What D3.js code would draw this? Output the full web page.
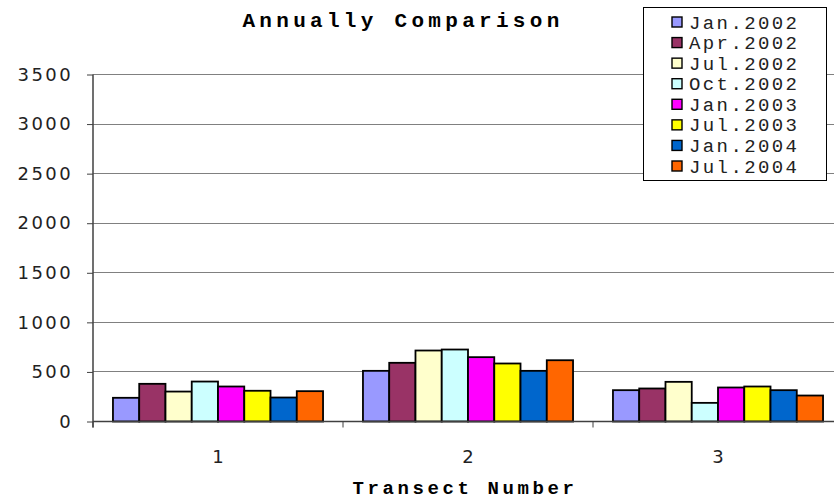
<!DOCTYPE html>
<html><head><meta charset="utf-8">
<script src="https://cdn.jsdelivr.net/npm/d3@7"></script>
<style>body{margin:0;background:#fff}svg{display:block}</style>
</head><body>
<svg id="c" width="834" height="499"></svg>
<script>
const categories = ["1","2","3"];
const seriesNames = ["Jan.2002","Apr.2002","Jul.2002","Oct.2002","Jan.2003","Jul.2003","Jan.2004","Jul.2004"];
const seriesColors = ["#9999ff","#993366","#ffffcc","#ccffff","#ff00ff","#ffff00","#0066cc","#ff6600"];
const values = [
  [239, 511, 316],
  [380, 592, 333],
  [302, 716, 400],
  [403, 726, 188],
  [353, 649, 343],
  [310, 585, 353],
  [242, 511, 316],
  [306, 618, 262]
];
const yTicks = [0,500,1000,1500,2000,2500,3000,3500];

(function(){
const svg = d3.select("#c");
const pl = 93, pr = 843, pt = 74.5, pb = 421.5;
const x = d3.scaleBand().domain(categories).range([pl, pr]).paddingInner(0).paddingOuter(0);
const xs = d3.scaleBand().domain(seriesNames).range([0, x.bandwidth()]).paddingInner(0).paddingOuter(0.76);
const y = d3.scaleLinear().domain([0,3500]).range([pb, pt]);

// gridlines
svg.append("g").selectAll("line").data(yTicks.slice(1)).join("line")
  .attr("x1", pl).attr("x2", 834).attr("y1", d=>Math.floor(y(d))+0.5).attr("y2", d=>Math.floor(y(d))+0.5)
  .attr("stroke", "#808080").attr("stroke-width", 1);

// bars
const g = svg.append("g");
seriesNames.forEach((s, si) => {
  g.selectAll(null).data(categories).join("rect")
    .attr("x", c => x(c) + xs(s))
    .attr("y", (c, ci) => y(values[si][ci]))
    .attr("width", xs.bandwidth())
    .attr("height", (c, ci) => pb - y(values[si][ci]))
    .attr("fill", seriesColors[si])
    .attr("stroke", "#000").attr("stroke-width", 1.8);
});

// y axis
const yAxis = d3.axisLeft(y).tickValues(yTicks).tickFormat(d3.format("d")).tickSize(6).tickPadding(14);
const ya = svg.append("g").attr("transform", `translate(${pl},0)`).call(yAxis);
ya.select(".domain").attr("stroke", "#404040").attr("stroke-width", 1.5).attr("d", `M0,${pt}V${pb+6}`);
ya.selectAll(".tick line").attr("stroke", "#404040");
ya.selectAll("text").attr("font-family", "DejaVu Sans").attr("font-size", 18).attr("letter-spacing", "2.4px").attr("fill", "#222");

// x axis
const xa = svg.append("g").attr("transform", `translate(0,${pb})`);
xa.append("line").attr("x1", pl).attr("x2", 834).attr("y1", 0).attr("y2", 0).attr("stroke", "#404040").attr("stroke-width", 1.5);
xa.selectAll(".xt").data(categories).join("line").attr("class","xt")
  .attr("x1", c => x(c)).attr("x2", c => x(c)).attr("y1", 0).attr("y2", 6).attr("stroke", "#404040");
xa.selectAll(".xl").data(categories).join("text").attr("class","xl")
  .attr("x", c => x(c) + x.bandwidth()/2).attr("y", 41)
  .attr("text-anchor", "middle").attr("font-family", "DejaVu Sans").attr("font-size", 18).attr("fill", "#222")
  .text(c => c);

// title
svg.append("text").attr("x", 403).attr("y", 27).attr("text-anchor", "middle")
  .attr("font-family", "Liberation Mono").attr("font-weight", "bold").attr("font-size", 21).attr("letter-spacing", "4.3px")
  .text("Annually Comparison");
svg.append("text").attr("x", 465).attr("y", 494).attr("text-anchor", "middle")
  .attr("font-family", "Liberation Mono").attr("font-weight", "bold").attr("font-size", 19).attr("letter-spacing", "3.6px")
  .text("Transect Number");

// legend
const lg = svg.append("g");
lg.append("rect").attr("x", 643.5).attr("y", 7.5).attr("width", 183).attr("height", 173).attr("fill", "#fff").attr("stroke", "#000").attr("stroke-width", 1);
const ly = d3.scalePoint().domain(seriesNames).range([22, 166]);
lg.selectAll("rect.sw").data(seriesNames).join("rect").attr("class","sw")
  .attr("x", 672).attr("y", d => ly(d) - 5).attr("width", 10).attr("height", 10)
  .attr("fill", (d,i) => seriesColors[i]).attr("stroke", "#000").attr("stroke-width", 1.4);
lg.selectAll("text.lt").data(seriesNames).join("text").attr("class","lt")
  .attr("x", 689).attr("y", d => ly(d) + 6.5)
  .attr("font-family", "Liberation Mono").attr("font-size", 19).attr("letter-spacing", "2.4px").attr("fill", "#222")
  .text(d => d);
})();
</script>
</body></html>
